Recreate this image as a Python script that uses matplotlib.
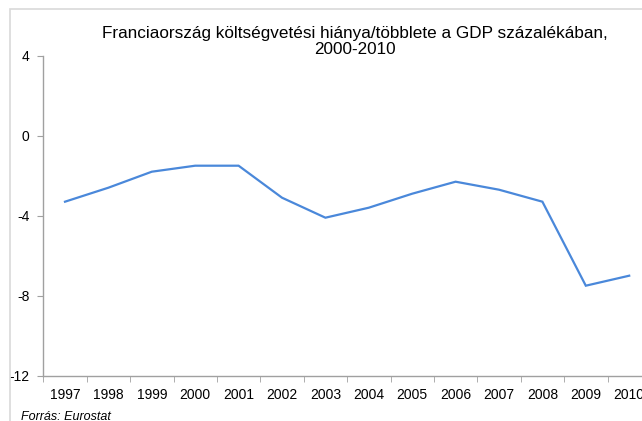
import matplotlib
matplotlib.use("Agg")
import matplotlib.pyplot as plt
from matplotlib.patches import Rectangle
from matplotlib.ticker import FixedLocator

years = ["1997", "1998", "1999", "2000", "2001", "2002", "2003",
         "2004", "2005", "2006", "2007", "2008", "2009", "2010"]
balance = [-3.3, -2.6, -1.8, -1.5, -1.5, -3.1, -4.1,
           -3.6, -2.9, -2.3, -2.7, -3.3, -7.5, -7.0]
yticks = [4, 0, -4, -8, -12]

W, H = 642, 421
plt.rcParams['font.family'] = ['Liberation Sans', 'DejaVu Sans']
fig = plt.figure(figsize=(W / 100, H / 100), dpi=100)

# outer chart border (cut at right/bottom)
fig.patches.append(Rectangle((9.5 / W, -0.1), 1.2, (H - 9.5) / H + 0.1,
                             transform=fig.transFigure, fill=False,
                             edgecolor='#d9d9d9', linewidth=1.2))

left = 43.3 / W
bottom = (H - 375.7) / H
top = (H - 55.7) / H
right = (43.3 + 14 * 43.4) / W
ax = fig.add_axes([left, bottom, right - left, top - bottom])

x = list(range(len(years)))
ax.plot(x, balance, color='#4a88da', linewidth=1.6, solid_joinstyle='miter')

ax.set_xlim(-0.5, len(years) - 0.5)
ax.set_ylim(-12, 4)
ax.set_yticks(yticks)
ax.set_yticklabels([str(v) for v in yticks])
ax.set_xticks(x)
ax.set_xticklabels(years)
ax.xaxis.set_minor_locator(FixedLocator([i - 0.5 for i in range(len(years) + 1)]))
ax.tick_params(axis='x', which='major', length=0, pad=9, labelsize=10)
ax.tick_params(axis='x', which='minor', length=4, color='#a0a0a0', direction='out')
ax.tick_params(axis='y', length=4, color='#a0a0a0', direction='out', pad=6, labelsize=10)

for s in ['top', 'right']:
    ax.spines[s].set_visible(False)
for s in ['left', 'bottom']:
    ax.spines[s].set_color('#a0a0a0')
    ax.spines[s].set_linewidth(1.0)

fig.text(354.5 / W, (H - 41.5) / H,
         "Franciaország költségvetési hiánya/többlete a GDP százalékában,\n2000-2010",
         ha='center', va='center', fontsize=12.3, linespacing=1.15)
fig.text(21 / W, (H - 411) / H, "Forrás: Eurostat", ha='left', va='top',
         fontsize=9, style='italic')

fig.savefig("out.png", dpi=100)
